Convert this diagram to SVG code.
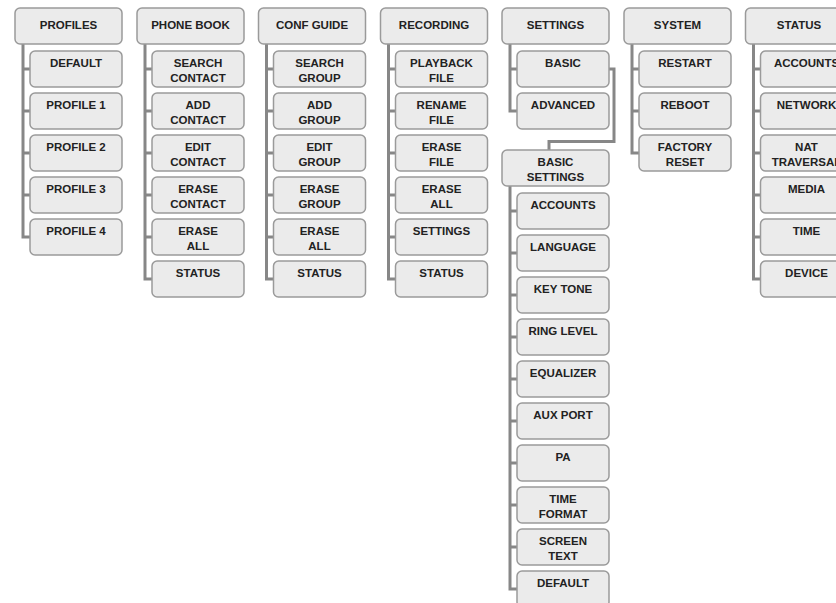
<svg xmlns="http://www.w3.org/2000/svg" width="836" height="603" viewBox="0 0 836 603">
<style>
.bx{fill:#ebebeb;stroke:#9a9a9a;stroke-width:1.5}
.t{font-family:"Liberation Sans",Arial,sans-serif;font-weight:bold;font-size:11.5px;fill:#222;text-anchor:middle}
.ln{fill:none;stroke:#878787;stroke-width:3}
</style>
<rect width="836" height="603" fill="#fff"/>
<g id="connectors">
<path class="ln" d="M23 44V237H30M23 69H30M23 111H30M23 153H30M23 195H30"/>
<path class="ln" d="M145 44V279H152M145 69H152M145 111H152M145 153H152M145 195H152M145 237H152"/>
<path class="ln" d="M266.5 44V279H273.5M266.5 69H273.5M266.5 111H273.5M266.5 153H273.5M266.5 195H273.5M266.5 237H273.5"/>
<path class="ln" d="M388.5 44V279H395.5M388.5 69H395.5M388.5 111H395.5M388.5 153H395.5M388.5 195H395.5M388.5 237H395.5"/>
<path class="ln" d="M510 44V111H517M510 69H517"/>
<path class="ln" d="M609 69H614V141.5H549V150"/>
<path class="ln" d="M510 186V589H517M510 211H517M510 253H517M510 295H517M510 337H517M510 379H517M510 421H517M510 463H517M510 505H517M510 547H517"/>
<path class="ln" d="M632 44V153H639M632 69H639M632 111H639"/>
<path class="ln" d="M753.5 44V279H760.5M753.5 69H760.5M753.5 111H760.5M753.5 153H760.5M753.5 195H760.5M753.5 237H760.5"/>
</g>
<!-- PROFILES -->
<g id="profiles"><rect class="bx" x="15" y="8" width="107" height="36" rx="5"/><text class="t" x="68.5" y="28.5">PROFILES</text></g>
<g id="default"><rect class="bx" x="30" y="51" width="92" height="36" rx="5"/><text class="t" x="76" y="66.5">DEFAULT</text></g>
<g id="profile1"><rect class="bx" x="30" y="93" width="92" height="36" rx="5"/><text class="t" x="76" y="108.5">PROFILE 1</text></g>
<g id="profile2"><rect class="bx" x="30" y="135" width="92" height="36" rx="5"/><text class="t" x="76" y="150.5">PROFILE 2</text></g>
<g id="profile3"><rect class="bx" x="30" y="177" width="92" height="36" rx="5"/><text class="t" x="76" y="192.5">PROFILE 3</text></g>
<g id="profile4"><rect class="bx" x="30" y="219" width="92" height="36" rx="5"/><text class="t" x="76" y="234.5">PROFILE 4</text></g>
<!-- PHONE BOOK -->
<g id="phonebook"><rect class="bx" x="137" y="8" width="107" height="36" rx="5"/><text class="t" x="190.5" y="28.5">PHONE BOOK</text></g>
<g id="pb-search"><rect class="bx" x="152" y="51" width="92" height="36" rx="5"/><text class="t" x="198" y="66.5">SEARCH</text><text class="t" x="198" y="81.5">CONTACT</text></g>
<g id="pb-add"><rect class="bx" x="152" y="93" width="92" height="36" rx="5"/><text class="t" x="198" y="108.5">ADD</text><text class="t" x="198" y="123.5">CONTACT</text></g>
<g id="pb-edit"><rect class="bx" x="152" y="135" width="92" height="36" rx="5"/><text class="t" x="198" y="150.5">EDIT</text><text class="t" x="198" y="165.5">CONTACT</text></g>
<g id="pb-erase"><rect class="bx" x="152" y="177" width="92" height="36" rx="5"/><text class="t" x="198" y="192.5">ERASE</text><text class="t" x="198" y="207.5">CONTACT</text></g>
<g id="pb-eraseall"><rect class="bx" x="152" y="219" width="92" height="36" rx="5"/><text class="t" x="198" y="234.5">ERASE</text><text class="t" x="198" y="249.5">ALL</text></g>
<g id="pb-status"><rect class="bx" x="152" y="261" width="92" height="36" rx="5"/><text class="t" x="198" y="276.5">STATUS</text></g>
<!-- CONF GUIDE -->
<g id="confguide"><rect class="bx" x="258.5" y="8" width="107" height="36" rx="5"/><text class="t" x="312" y="28.5">CONF GUIDE</text></g>
<g id="cg-search"><rect class="bx" x="273.5" y="51" width="92" height="36" rx="5"/><text class="t" x="319.5" y="66.5">SEARCH</text><text class="t" x="319.5" y="81.5">GROUP</text></g>
<g id="cg-add"><rect class="bx" x="273.5" y="93" width="92" height="36" rx="5"/><text class="t" x="319.5" y="108.5">ADD</text><text class="t" x="319.5" y="123.5">GROUP</text></g>
<g id="cg-edit"><rect class="bx" x="273.5" y="135" width="92" height="36" rx="5"/><text class="t" x="319.5" y="150.5">EDIT</text><text class="t" x="319.5" y="165.5">GROUP</text></g>
<g id="cg-erase"><rect class="bx" x="273.5" y="177" width="92" height="36" rx="5"/><text class="t" x="319.5" y="192.5">ERASE</text><text class="t" x="319.5" y="207.5">GROUP</text></g>
<g id="cg-eraseall"><rect class="bx" x="273.5" y="219" width="92" height="36" rx="5"/><text class="t" x="319.5" y="234.5">ERASE</text><text class="t" x="319.5" y="249.5">ALL</text></g>
<g id="cg-status"><rect class="bx" x="273.5" y="261" width="92" height="36" rx="5"/><text class="t" x="319.5" y="276.5">STATUS</text></g>
<!-- RECORDING -->
<g id="recording"><rect class="bx" x="380.5" y="8" width="107" height="36" rx="5"/><text class="t" x="434" y="28.5">RECORDING</text></g>
<g id="rec-playback"><rect class="bx" x="395.5" y="51" width="92" height="36" rx="5"/><text class="t" x="441.5" y="66.5">PLAYBACK</text><text class="t" x="441.5" y="81.5">FILE</text></g>
<g id="rec-rename"><rect class="bx" x="395.5" y="93" width="92" height="36" rx="5"/><text class="t" x="441.5" y="108.5">RENAME</text><text class="t" x="441.5" y="123.5">FILE</text></g>
<g id="rec-erasefile"><rect class="bx" x="395.5" y="135" width="92" height="36" rx="5"/><text class="t" x="441.5" y="150.5">ERASE</text><text class="t" x="441.5" y="165.5">FILE</text></g>
<g id="rec-eraseall"><rect class="bx" x="395.5" y="177" width="92" height="36" rx="5"/><text class="t" x="441.5" y="192.5">ERASE</text><text class="t" x="441.5" y="207.5">ALL</text></g>
<g id="rec-settings"><rect class="bx" x="395.5" y="219" width="92" height="36" rx="5"/><text class="t" x="441.5" y="234.5">SETTINGS</text></g>
<g id="rec-status"><rect class="bx" x="395.5" y="261" width="92" height="36" rx="5"/><text class="t" x="441.5" y="276.5">STATUS</text></g>
<!-- SETTINGS -->
<g id="settings"><rect class="bx" x="502" y="8" width="107" height="36" rx="5"/><text class="t" x="555.5" y="28.5">SETTINGS</text></g>
<g id="set-basic"><rect class="bx" x="517" y="51" width="92" height="36" rx="5"/><text class="t" x="563" y="66.5">BASIC</text></g>
<g id="set-advanced"><rect class="bx" x="517" y="93" width="92" height="36" rx="5"/><text class="t" x="563" y="108.5">ADVANCED</text></g>
<!-- BASIC SETTINGS -->
<g id="basicsettings"><rect class="bx" x="502" y="150" width="107" height="36" rx="5"/><text class="t" x="555.5" y="165.5">BASIC</text><text class="t" x="555.5" y="181">SETTINGS</text></g>
<g id="bs-accounts"><rect class="bx" x="517" y="193" width="92" height="36" rx="5"/><text class="t" x="563" y="208.5">ACCOUNTS</text></g>
<g id="bs-language"><rect class="bx" x="517" y="235" width="92" height="36" rx="5"/><text class="t" x="563" y="250.5">LANGUAGE</text></g>
<g id="bs-keytone"><rect class="bx" x="517" y="277" width="92" height="36" rx="5"/><text class="t" x="563" y="292.5">KEY TONE</text></g>
<g id="bs-ringlevel"><rect class="bx" x="517" y="319" width="92" height="36" rx="5"/><text class="t" x="563" y="334.5">RING LEVEL</text></g>
<g id="bs-equalizer"><rect class="bx" x="517" y="361" width="92" height="36" rx="5"/><text class="t" x="563" y="376.5">EQUALIZER</text></g>
<g id="bs-auxport"><rect class="bx" x="517" y="403" width="92" height="36" rx="5"/><text class="t" x="563" y="418.5">AUX PORT</text></g>
<g id="bs-pa"><rect class="bx" x="517" y="445" width="92" height="36" rx="5"/><text class="t" x="563" y="460.5">PA</text></g>
<g id="bs-timeformat"><rect class="bx" x="517" y="487" width="92" height="36" rx="5"/><text class="t" x="563" y="502.5">TIME</text><text class="t" x="563" y="517.5">FORMAT</text></g>
<g id="bs-screentext"><rect class="bx" x="517" y="529" width="92" height="36" rx="5"/><text class="t" x="563" y="544.5">SCREEN</text><text class="t" x="563" y="559.5">TEXT</text></g>
<g id="bs-default"><rect class="bx" x="517" y="571" width="92" height="36" rx="5"/><text class="t" x="563" y="586.5">DEFAULT</text></g>
<!-- SYSTEM -->
<g id="system"><rect class="bx" x="624" y="8" width="107" height="36" rx="5"/><text class="t" x="677.5" y="28.5">SYSTEM</text></g>
<g id="sys-restart"><rect class="bx" x="639" y="51" width="92" height="36" rx="5"/><text class="t" x="685" y="66.5">RESTART</text></g>
<g id="sys-reboot"><rect class="bx" x="639" y="93" width="92" height="36" rx="5"/><text class="t" x="685" y="108.5">REBOOT</text></g>
<g id="sys-factory"><rect class="bx" x="639" y="135" width="92" height="36" rx="5"/><text class="t" x="685" y="150.5">FACTORY</text><text class="t" x="685" y="165.5">RESET</text></g>
<!-- STATUS -->
<g id="status"><rect class="bx" x="745.5" y="8" width="107" height="36" rx="5"/><text class="t" x="799" y="28.5">STATUS</text></g>
<g id="st-accounts"><rect class="bx" x="760.5" y="51" width="92" height="36" rx="5"/><text class="t" x="806.5" y="66.5">ACCOUNTS</text></g>
<g id="st-network"><rect class="bx" x="760.5" y="93" width="92" height="36" rx="5"/><text class="t" x="806.5" y="108.5">NETWORK</text></g>
<g id="st-nat"><rect class="bx" x="760.5" y="135" width="92" height="36" rx="5"/><text class="t" x="806.5" y="150.5">NAT</text><text class="t" x="806.5" y="165.5">TRAVERSAL</text></g>
<g id="st-media"><rect class="bx" x="760.5" y="177" width="92" height="36" rx="5"/><text class="t" x="806.5" y="192.5">MEDIA</text></g>
<g id="st-time"><rect class="bx" x="760.5" y="219" width="92" height="36" rx="5"/><text class="t" x="806.5" y="234.5">TIME</text></g>
<g id="st-device"><rect class="bx" x="760.5" y="261" width="92" height="36" rx="5"/><text class="t" x="806.5" y="276.5">DEVICE</text></g>
</svg>
